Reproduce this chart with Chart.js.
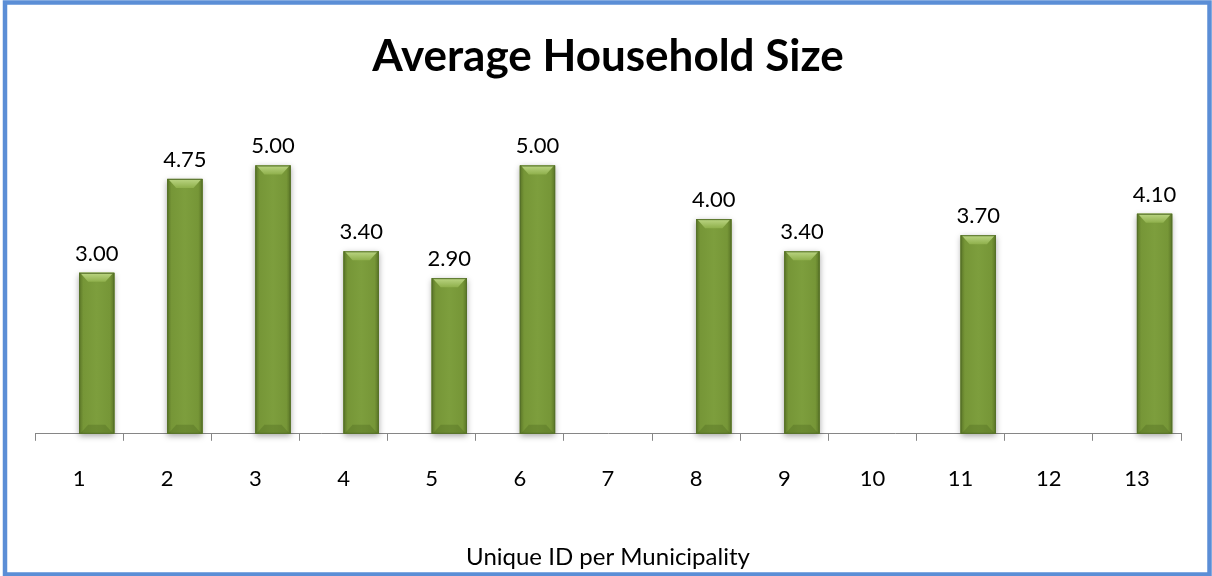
<!DOCTYPE html>
<html>
<head>
<meta charset="utf-8">
<title>Average Household Size</title>
<script src="https://cdn.jsdelivr.net/npm/chart.js@4"></script>
<style>
  html, body { margin: 0; padding: 0; background: #fff; }
  #wrap { width: 1212px; height: 576px; position: relative; }
</style>
</head>
<body>
<div id="wrap"><canvas id="householdChart" width="1212" height="576"></canvas></div>
<script>
// municipality ids along the x axis
var municipalityIds = ['1', '2', '3', '4', '5', '6', '7', '8', '9', '10', '11', '12', '13'];
// average persons per household (null = no data for that municipality)
var householdSize = [3.00, 4.75, 5.00, 3.40, 2.90, 5.00, null, 4.00, 3.40, null, 3.70, null, 4.10];
// empty series that occupies the left slot of each category
var spacerSeries = [null, null, null, null, null, null, null, null, null, null, null, null, null];

var FONT = 'Lato, "Open Sans", sans-serif';

// soft drop shadow under each bar
var barShadow = {
    id: 'barShadow',
    beforeDatasetDraw: function(chart, args) {
        if (args.index !== 1) return;
        var ctx = chart.ctx;
        args.meta.data.forEach(function(bar, i) {
            if (householdSize[i] == null) return;
            var p = bar.getProps(['x', 'y', 'base', 'width'], true);
            ctx.save();
            ctx.shadowColor = 'rgba(0,0,0,0.35)';
            ctx.shadowBlur = 6;
            ctx.shadowOffsetY = 2;
            ctx.fillStyle = '#6f8c33';
            ctx.fillRect(p.x - p.width / 2, p.y, p.width, p.base - p.y);
            ctx.restore();
        });
    }
};

// bevel shading + value labels on top of the green bars
var barBevel = {
    id: 'barBevel',
    afterDatasetDraw: function(chart, args) {
        if (args.index !== 1) return;
        var ctx = chart.ctx;
        args.meta.data.forEach(function(bar, i) {
            var v = householdSize[i];
            if (v == null) return;
            var p = bar.getProps(['x', 'y', 'base', 'width'], true);
            var l = p.x - p.width / 2, r = p.x + p.width / 2, t = p.y, b = p.base;
            var bv = 9;
            ctx.save();
            // body
            var g = ctx.createLinearGradient(l, 0, r, 0);
            g.addColorStop(0, '#5a7526');
            g.addColorStop(0.12, '#769637');
            g.addColorStop(0.5, '#7d9e3d');
            g.addColorStop(0.88, '#769637');
            g.addColorStop(1, '#5a7526');
            ctx.fillStyle = g;
            ctx.fillRect(l, t, r - l, b - t);
            // top bevel
            var gt = ctx.createLinearGradient(0, t, 0, t + bv);
            gt.addColorStop(0, '#bcd684');
            gt.addColorStop(1, '#8fb04c');
            ctx.fillStyle = gt;
            ctx.beginPath();
            ctx.moveTo(l + 1, t);
            ctx.lineTo(r - 1, t);
            ctx.lineTo(r - bv, t + bv);
            ctx.lineTo(l + bv, t + bv);
            ctx.closePath();
            ctx.fill();
            // bottom bevel
            ctx.fillStyle = 'rgba(70,95,25,0.3)';
            ctx.beginPath();
            ctx.moveTo(l + 1, b);
            ctx.lineTo(r - 1, b);
            ctx.lineTo(r - bv, b - bv);
            ctx.lineTo(l + bv, b - bv);
            ctx.closePath();
            ctx.fill();
            // outline
            ctx.strokeStyle = '#55702a';
            ctx.lineWidth = 1;
            ctx.strokeRect(l + 0.5, t + 0.5, r - l - 1, b - t - 1);
            // value label
            ctx.fillStyle = '#000';
            ctx.font = '22px ' + FONT;
            ctx.textAlign = 'center';
            ctx.textBaseline = 'alphabetic';
            ctx.fillText(v.toFixed(2), p.x, t - 12);
            ctx.restore();
        });
    }
};

// blue frame around the whole chart
var frame = {
    id: 'frame',
    afterDraw: function(chart) {
        var ctx = chart.ctx;
        ctx.save();
        ctx.strokeStyle = '#5b8ed6';
        ctx.lineWidth = 4.5;
        ctx.strokeRect(5, 2.5, 1204.5, 572);
        ctx.restore();
    }
};

var ctx = document.getElementById('householdChart').getContext('2d');
new Chart(ctx, {
    type: 'bar',
    data: {
        labels: municipalityIds,
        datasets: [{
            label: 'spacer',
            data: spacerSeries,
            backgroundColor: 'rgba(0,0,0,0)'
        }, {
            label: 'Average Household Size',
            data: householdSize,
            backgroundColor: '#7a9a3a',
            borderWidth: 0
        }]
    },
    options: {
        responsive: false,
        animation: false,
        datasets: {
            bar: { categoryPercentage: 0.8, barPercentage: 1.0 }
        },
        layout: {
            padding: { left: 35, right: 31, top: 0, bottom: 4 }
        },
        plugins: {
            legend: { display: false },
            tooltip: { enabled: false },
            title: {
                display: true,
                text: 'Average Household Size',
                color: '#000',
                font: { family: FONT, size: 44, weight: 'bold' },
                padding: { top: 30, bottom: 29 }
            }
        },
        scales: {
            y: {
                display: false,
                min: 0,
                max: 6
            },
            x: {
                grid: {
                    offset: true,
                    drawOnChartArea: false,
                    tickLength: 7,
                    color: '#868686'
                },
                border: { color: '#868686', width: 1 },
                ticks: {
                    color: '#000',
                    padding: 25,
                    font: { family: FONT, size: 22 }
                },
                title: {
                    display: true,
                    text: 'Unique ID per Municipality',
                    color: '#000',
                    font: { family: FONT, size: 24 },
                    padding: { top: 26, bottom: 0 }
                }
            }
        }
    },
    plugins: [barShadow, barBevel, frame]
});
</script>
</body>
</html>
